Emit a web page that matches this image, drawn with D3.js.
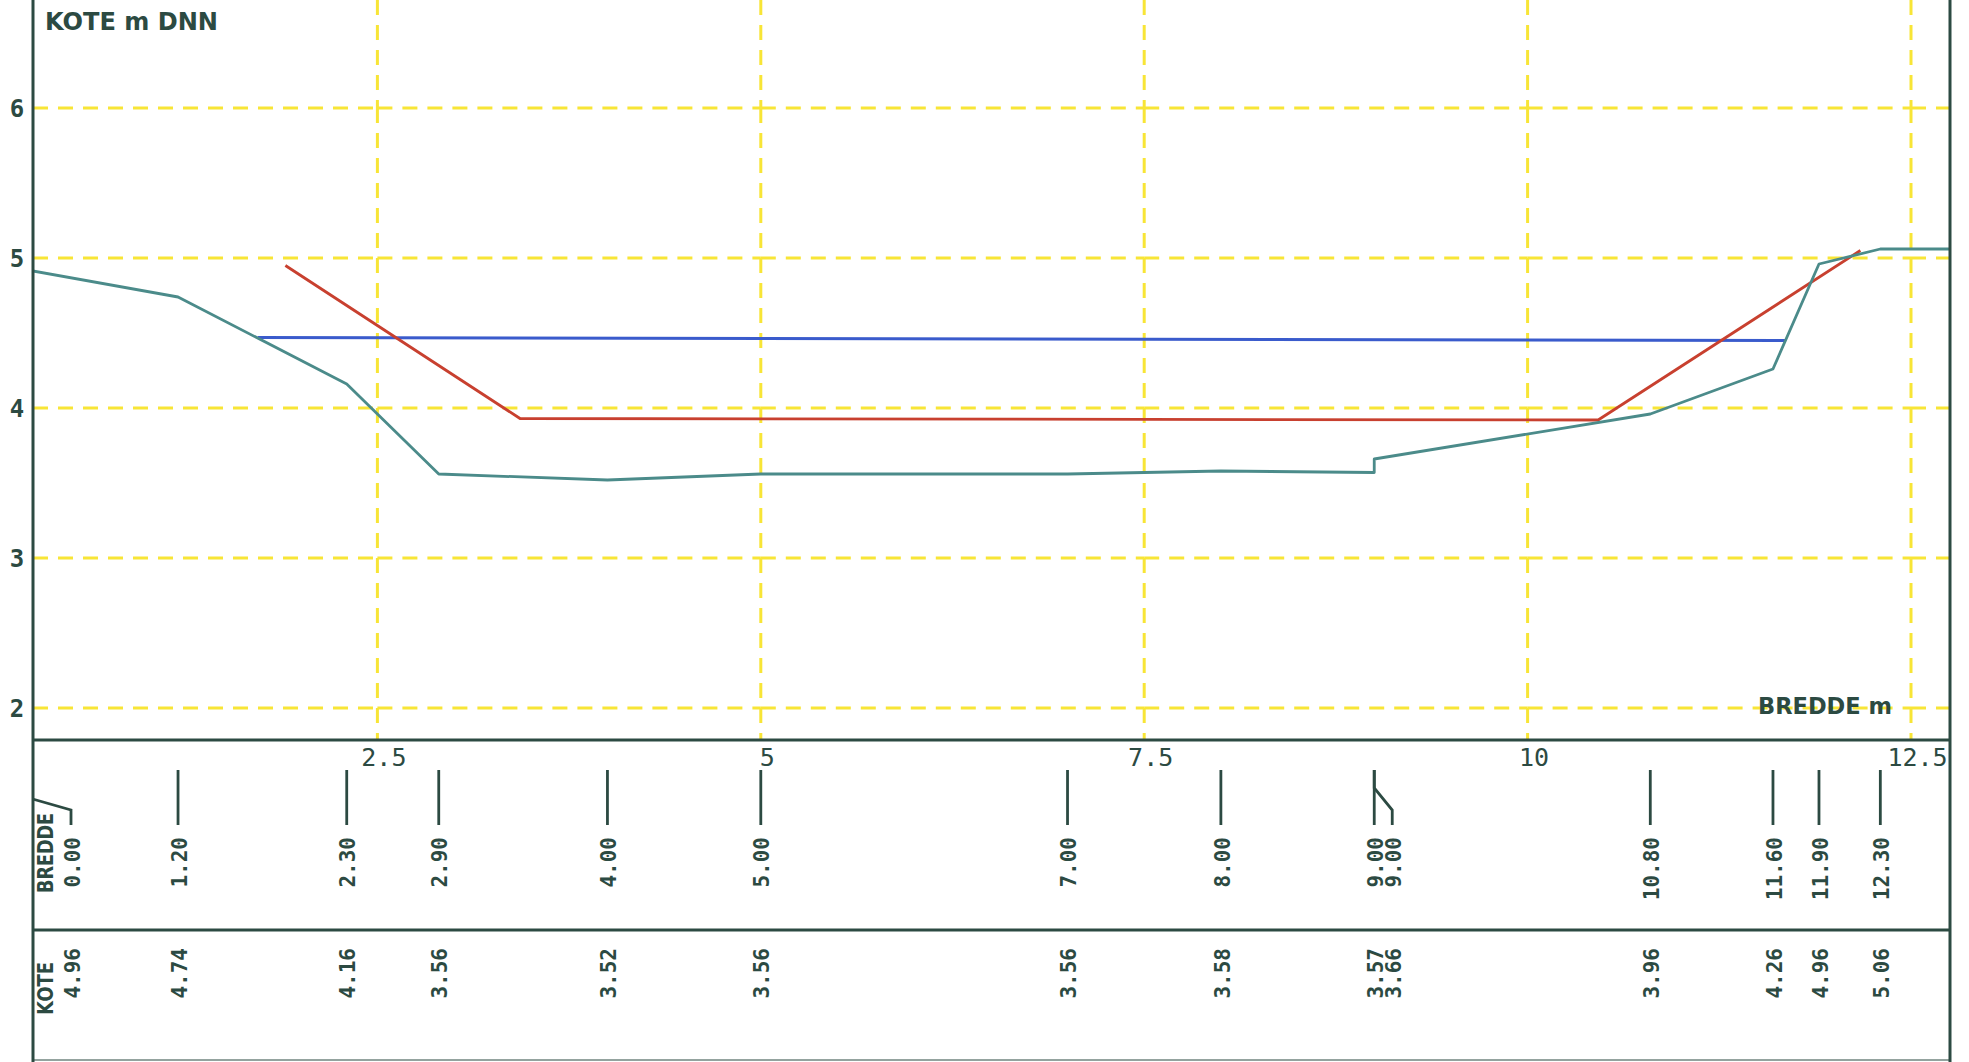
<!DOCTYPE html>
<html><head><meta charset="utf-8">
<script src="https://cdn.jsdelivr.net/npm/d3@7"></script>
<style>body{margin:0;background:#fff;overflow:hidden}svg{display:block}</style>
</head><body><svg id="c" width="1969" height="1062"></svg>
<script>
// ---- data ----
const bredde = [0.00, 1.20, 2.30, 2.90, 4.00, 5.00, 7.00, 8.00, 9.00, 9.00, 10.80, 11.60, 11.90, 12.30, 13.00];
const kote   = [4.96, 4.74, 4.16, 3.56, 3.52, 3.56, 3.56, 3.58, 3.57, 3.66, 3.96, 4.26, 4.96, 5.06, 5.06];
const waterX = [1.72, 11.68];
const waterY = [4.47, 4.45];
const designX = [1.90, 3.43, 10.46, 12.17];
const designY = [4.95, 3.93, 3.92, 5.05];
const xTicks = [2.5, 5, 7.5, 10, 12.5];
const xTickLabels = ["2.5", "5", "7.5", "10", "12.5"];
const yTicks = [2, 3, 4, 5, 6];
const yTickLabels = ["2", "3", "4", "5", "6"];
const yTitle = "KOTE m DNN";
const xTitle = "BREDDE m";
const rowTitles = ["BREDDE", "KOTE"];

// ---- layout ----
const L = 33, R = 1950, T = 0, B = 740, ROW1 = 930, BOT = 1060;
const INK = "#2c4a42", GRID = "#f8e536", TEAL = "#4b8b8a", RED = "#c8402f", BLUE = "#3a5bcc";
const svg = d3.select("#c");
const x = d3.scaleLinear().domain([0, 12.5]).range([-6, 1911]);
const y = d3.scaleLinear().domain([2, 6]).range([708, 108]);

const defs = svg.append("defs");
defs.append("clipPath").attr("id", "plot").append("rect").attr("x", L).attr("y", T).attr("width", R - L).attr("height", B - T);
defs.append("clipPath").attr("id", "table").append("rect").attr("x", L).attr("y", B).attr("width", R - L).attr("height", BOT - B);

// ---- grid (dashes restart at each crossing) ----
const g = svg.append("g").attr("stroke", GRID).attr("stroke-width", 3).attr("stroke-dasharray", "15,10").attr("fill", "none");
const xb = [L, ...xTicks.map(x), R];
const yb = [T, ...yTicks.map(y).sort((a, b) => a - b), B];
yTicks.forEach(t => {
  for (let i = 0; i < xb.length - 1; i++)
    g.append("line").attr("x1", xb[i]).attr("x2", xb[i + 1]).attr("y1", y(t)).attr("y2", y(t));
});
xTicks.forEach(t => {
  for (let i = 0; i < yb.length - 1; i++)
    g.append("line").attr("x1", x(t)).attr("x2", x(t)).attr("y1", yb[i]).attr("y2", yb[i + 1]);
});

// ---- series ----
const line = d3.line().x(d => x(d[0])).y(d => y(d[1]));
const plot = svg.append("g").attr("clip-path", "url(#plot)").attr("fill", "none").attr("stroke-width", 2.8).attr("stroke-linejoin", "round");
plot.append("path").attr("d", line(waterX.map((v, i) => [v, waterY[i]]))).attr("stroke", BLUE);
plot.append("path").attr("d", line(designX.map((v, i) => [v, designY[i]]))).attr("stroke", RED);
plot.append("path").attr("d", line(bredde.map((v, i) => [v, kote[i]]))).attr("stroke", TEAL);

// ---- frame ----
const fr = svg.append("g").attr("stroke", INK).attr("stroke-width", 3);
fr.append("line").attr("x1", L).attr("x2", L).attr("y1", 0).attr("y2", 1062);
fr.append("line").attr("x1", R).attr("x2", R).attr("y1", 0).attr("y2", 1062);
fr.append("line").attr("x1", L).attr("x2", R).attr("y1", B).attr("y2", B);
fr.append("line").attr("x1", L).attr("x2", R).attr("y1", ROW1).attr("y2", ROW1);
fr.append("line").attr("x1", L).attr("x2", R).attr("y1", BOT).attr("y2", BOT).attr("stroke-width", 2).attr("opacity", 0.5);

// ---- axes labels ----
const xa = svg.append("g").attr("transform", `translate(6,${B})`)
  .call(d3.axisBottom(x).tickValues(xTicks).tickFormat((d, i) => xTickLabels[i]).tickSize(0).tickPadding(8));
xa.select(".domain").remove();
xa.selectAll("text").attr("font-family", "DejaVu Sans Mono").attr("font-size", 25).attr("fill", INK).attr("font-weight", 500);

const ya = svg.append("g").attr("transform", `translate(${L},0)`)
  .call(d3.axisLeft(y).tickValues(yTicks).tickFormat((d, i) => yTickLabels[i]).tickSize(0).tickPadding(6));
ya.select(".domain").remove();
ya.selectAll("text").attr("font-family", "DejaVu Sans Mono").attr("font-weight", "bold").attr("font-size", 24).attr("fill", INK).attr("text-anchor", "middle").attr("x", -16).attr("dy", "0.36em");

svg.append("text").text(yTitle).attr("x", 45).attr("y", 30).attr("font-family", "DejaVu Sans").attr("font-weight", "bold")
  .attr("font-size", 24).attr("fill", INK).attr("textLength", 173).attr("lengthAdjust", "spacingAndGlyphs");
svg.append("text").text(xTitle).attr("x", 1758).attr("y", 714).attr("font-family", "DejaVu Sans").attr("font-weight", "bold")
  .attr("font-size", 23).attr("fill", INK).attr("textLength", 134).attr("lengthAdjust", "spacingAndGlyphs");

// ---- table ----
const FS = 21;
const slots = [];
bredde.forEach((b, i) => {
  if (x(b) > R) return;
  const prev = slots.length ? slots[slots.length - 1].lx : -Infinity;
  const lx = Math.max(x(b), prev + 18, 71);
  slots.push({ b, k: kote[i], tx: x(b), lx });
});
const tb = svg.append("g").attr("clip-path", "url(#table)");
tb.selectAll("path.tick").data(slots).join("path").attr("class", "tick")
  .attr("d", d => Math.abs(d.lx - d.tx) < 0.5 ? `M${d.tx},770V825` : `M${d.tx},770V788L${d.lx},810V825`)
  .attr("fill", "none").attr("stroke", INK).attr("stroke-width", 2.8);
const rot = (cx, yy) => `translate(${cx + 0.365 * FS},${yy}) rotate(-90)`;
tb.selectAll("text.b").data(slots).join("text").attr("class", "b")
  .attr("transform", d => rot(d.lx + 1, 837)).attr("text-anchor", "end")
  .attr("font-family", "DejaVu Sans Mono").attr("font-weight", "bold").attr("font-size", FS).attr("fill", INK)
  .text(d => d.b.toFixed(2));
tb.selectAll("text.k").data(slots).join("text").attr("class", "k")
  .attr("transform", d => rot(d.lx + 1, 948)).attr("text-anchor", "end")
  .attr("font-family", "DejaVu Sans Mono").attr("font-weight", "bold").attr("font-size", FS).attr("fill", INK)
  .text(d => d.k.toFixed(2));
svg.append("text").text(rowTitles[0]).attr("transform", rot(45.5, 893)).attr("font-family", "DejaVu Sans").attr("font-weight", "bold")
  .attr("font-size", FS).attr("fill", INK).attr("textLength", 80).attr("lengthAdjust", "spacingAndGlyphs");
svg.append("text").text(rowTitles[1]).attr("transform", rot(45.5, 1015)).attr("font-family", "DejaVu Sans").attr("font-weight", "bold")
  .attr("font-size", FS).attr("fill", INK).attr("textLength", 53).attr("lengthAdjust", "spacingAndGlyphs");
</script></body></html>
